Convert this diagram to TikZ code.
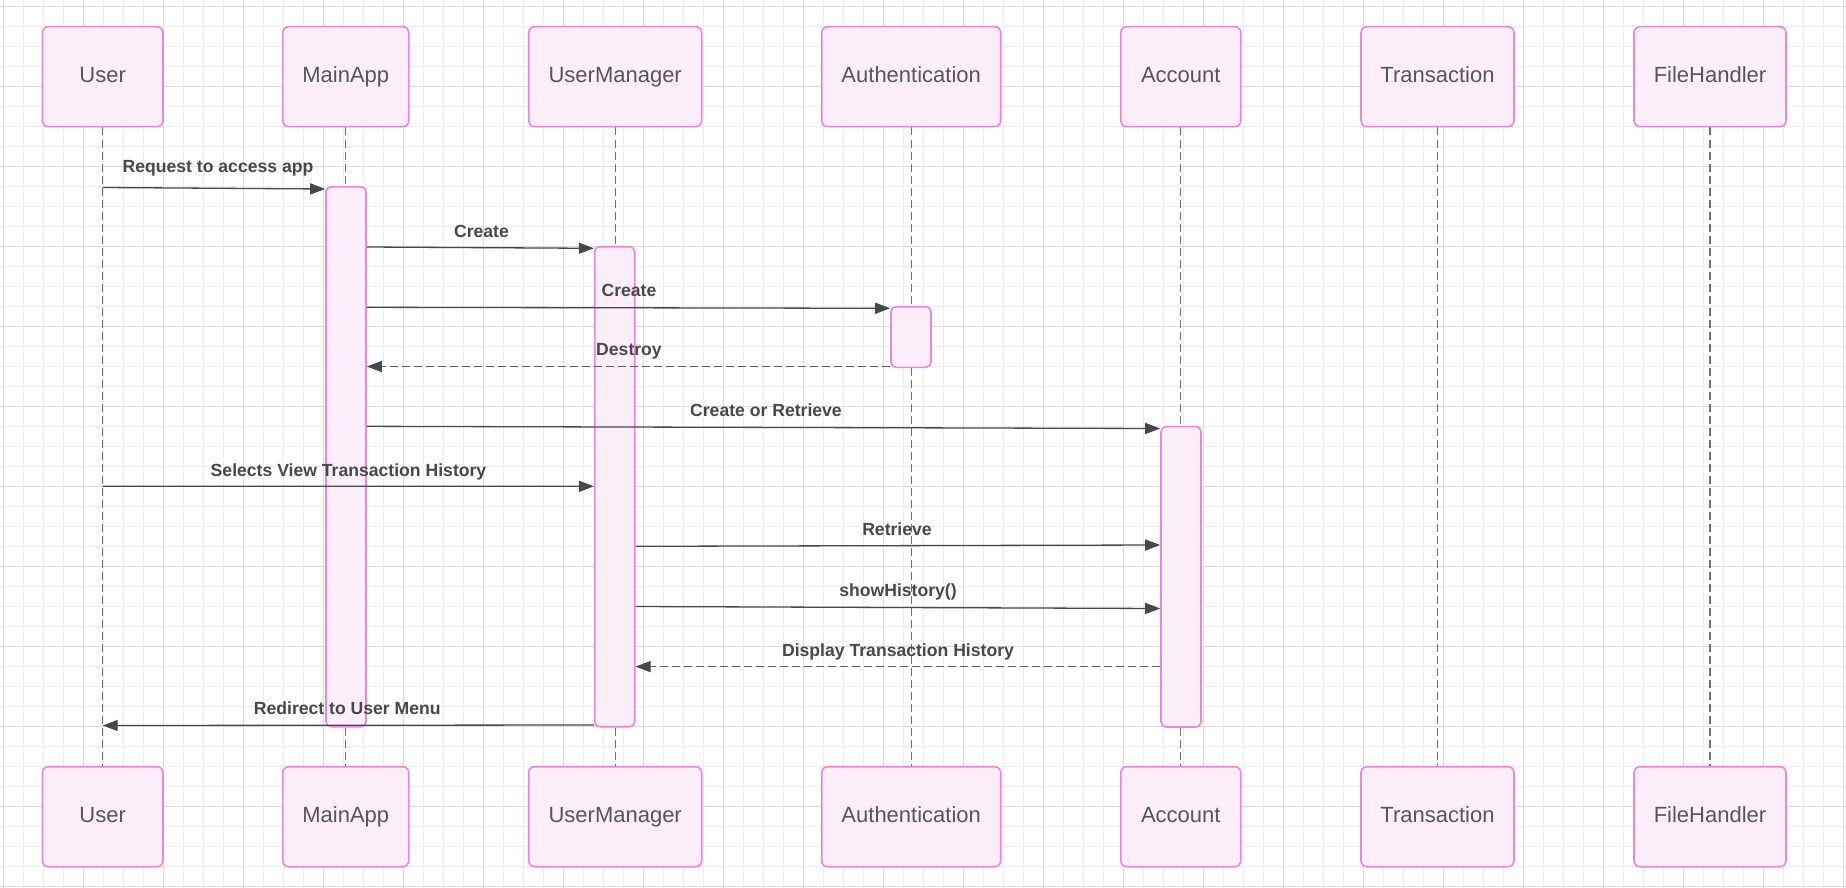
\documentclass[tikz,border=0pt]{standalone}
\usepackage{fontspec}
\setmainfont{Liberation Sans}
\usetikzlibrary{arrows.meta,calc}
\definecolor{gridminor}{HTML}{EEEEEE}
\definecolor{gridmajor}{HTML}{DCDCDC}
\definecolor{pinkline}{HTML}{EE85DC}
\definecolor{pinkfill}{HTML}{FCEFF9}
\definecolor{boxtext}{HTML}{55555E}
\definecolor{msgcol}{HTML}{45484F}
\definecolor{dashcol}{HTML}{5C5F66}
\definecolor{lifecol}{HTML}{6F7178}
\pgfdeclarelayer{fg}
\pgfsetlayers{main,fg}
\tikzset{
  gminor/.style={draw=gridminor, line width=0.9pt},
  gmajor/.style={draw=gridmajor, line width=1.2pt},
  actor/.style={draw=pinkline, fill=pinkfill, line width=1.6pt, rounded corners=6pt,
    minimum height=100pt, inner sep=0pt, text=boxtext,
    font=\fontsize{22}{26}\selectfont, text height=16pt, text depth=4pt},
  actbar/.style={draw=pinkline, fill=pinkfill, line width=1.6pt, rounded corners=5pt,
    minimum width=40pt, inner sep=0pt},
  lifeline/.style={draw=lifecol, line width=1.2pt, dash pattern=on 8pt off 4pt},
  msg/.style={draw=msgcol, line width=1.3pt, -{Triangle[length=15pt,width=11pt]}},
  retmsg/.style={draw=dashcol, line width=1.3pt, dash pattern=on 8.5pt off 3.5pt,
    -{Triangle[length=15pt,width=11pt,fill=msgcol,color=msgcol]}},
  msglabel/.style={anchor=base, inner sep=0pt, text=msgcol,
    font=\fontsize{17.6}{20}\selectfont\bfseries}
}
\begin{document}
\begin{tikzpicture}[x=1pt,y=-1pt]
\useasboundingbox (0,0) rectangle (1846,888);
\fill[white] (0,0) rectangle (1846,888);
% grid
\foreach \i in {0,...,92} {\draw[gminor] ({3.3+20*\i},0) -- ({3.3+20*\i},888);}
\foreach \j in {0,...,44} {\draw[gminor] (0,{6.7+20*\j}) -- (1846,{6.7+20*\j});}
\foreach \i in {0,...,23} {\draw[gmajor] ({3.3+80*\i},0) -- ({3.3+80*\i},888);}
\foreach \j in {0,...,11} {\draw[gmajor] (0,{6.7+80*\j}) -- (1846,{6.7+80*\j});}

% actors
\begin{pgfonlayer}{fg}
\node[actor, minimum width=120.5pt] (userT) at (102.7,76.7) {User};
\node[actor, minimum width=126pt] (mainT) at (345.8,76.7) {MainApp};
\node[actor, minimum width=173pt] (umT) at (615.2,76.7) {UserManager};
\node[actor, minimum width=179pt] (authT) at (911.2,76.7) {Authentication};
\node[actor, minimum width=120pt] (acctT) at (1180.8,76.7) {Account};
\node[actor, minimum width=153pt] (transT) at (1437.5,76.7) {Transaction};
\node[actor, minimum width=152pt] (fhT) at (1710,76.7) {FileHandler};

\node[actor, minimum width=120.5pt] (userB) at (102.7,816.7) {User};
\node[actor, minimum width=126pt] (mainB) at (345.8,816.7) {MainApp};
\node[actor, minimum width=173pt] (umB) at (615.2,816.7) {UserManager};
\node[actor, minimum width=179pt] (authB) at (911.2,816.7) {Authentication};
\node[actor, minimum width=120pt] (acctB) at (1180.8,816.7) {Account};
\node[actor, minimum width=153pt] (transB) at (1437.5,816.7) {Transaction};
\node[actor, minimum width=152pt] (fhB) at (1710,816.7) {FileHandler};
\end{pgfonlayer}

% lifelines
\foreach \n in {user,main,um,auth,acct,trans,fh} {
  \draw[lifeline] (\n T.south) -- (\n B.north);
}

% activation bars
\node[actbar, minimum height=540pt] (mainbar) at (346,456.7) {};
\node[actbar, minimum height=480pt] (umbar) at (614.7,486.7) {};
\node[actbar, minimum height=60.6pt] (authbar) at (911,337) {};
\node[actbar, minimum height=300.3pt] (acctbar) at (1181,576.8) {};

% messages
\draw[msg] (userT.south |- 0,187.5) -- (mainbar.west |- 0,189);
\draw[msg] (mainbar.east |- 0,247) -- (umbar.west |- 0,248.3);
\draw[msg] (mainbar.east |- 0,307.3) -- (authbar.west |- 0,308.3);
\draw[retmsg] (authbar.west |- 0,366.5) -- (mainbar.east |- 0,366.5);
\draw[msg] (mainbar.east |- 0,426.3) -- (acctbar.west |- 0,428.5);
\draw[msg] (userT.south |- 0,486.2) -- (umbar.west |- 0,486.3);
\draw[msg] (umbar.east |- 0,546.3) -- (acctbar.west |- 0,545);
\draw[msg] (umbar.east |- 0,606.5) -- (acctbar.west |- 0,608.5);
\draw[retmsg] (acctbar.west |- 0,666.6) -- (umbar.east |- 0,666.6);
\draw[msg] (umbar.west |- 0,725) -- (userT.south |- 0,725.5);

% labels
\begin{pgfonlayer}{fg}
\node[msglabel] (l1) at (218,172.7) {Request to access app};
\node[msglabel] (l2) at (481.5,237) {Create};
\node[msglabel] (l3) at (629,296.7) {Create};
\node[msglabel] (l4) at (629,355) {Destroy};
\node[msglabel] (l5) at (766,416) {Create or Retrieve};
\node[msglabel] (l6) at (348.5,476) {Selects View Transaction History};
\node[msglabel] (l7) at (897,535.5) {Retrieve};
\node[msglabel] (l8) at (898,596.5) {showHistory()};
\node[msglabel] (l9) at (898,656) {Display Transaction History};
\node[msglabel] (l10) at (347.3,714.5) {Redirect to User Menu};
\end{pgfonlayer}
\end{tikzpicture}
\end{document}
